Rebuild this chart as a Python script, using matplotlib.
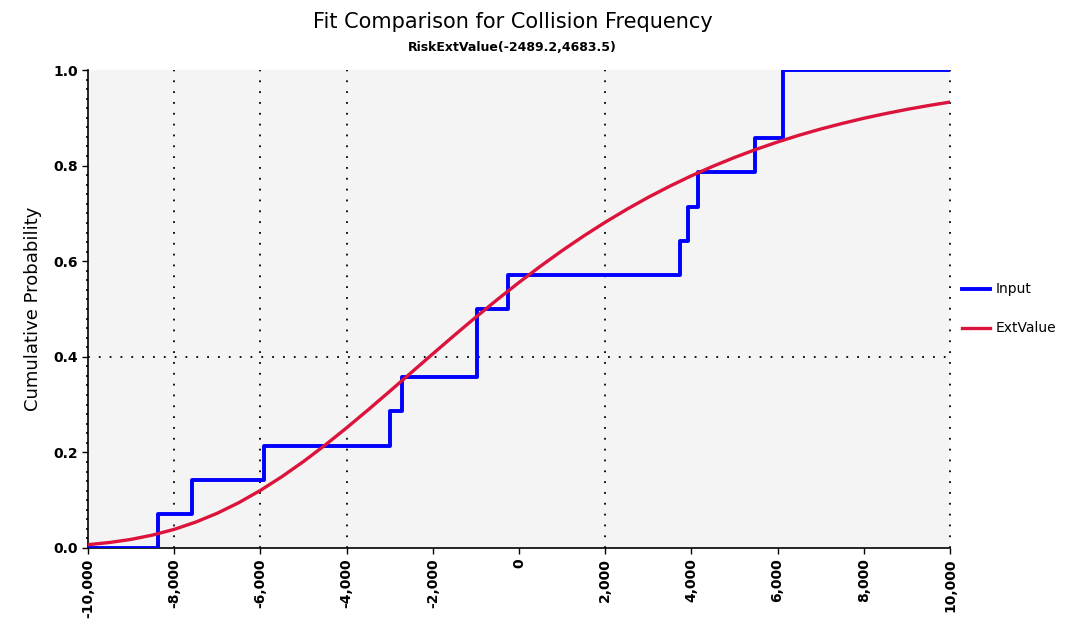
import numpy as np
import matplotlib
matplotlib.use('Agg')
import matplotlib.pyplot as plt
from matplotlib.ticker import FuncFormatter, MultipleLocator

# empirical CDF of the input data (x where each step rises, level after the step)
step_x = [-10000, -8376, -7587, -5917, -2993, -2715, -975, -255, 3735, 3921, 4153, 5476, 6125, 10000]
step_y = [0.0, 0.0714, 0.1429, 0.2143, 0.2857, 0.3571, 0.5, 0.5714, 0.6429, 0.7143, 0.7857, 0.8571, 1.0, 1.0]

# fitted ExtValue CDF
fit_x = [-10000, -9500, -9000, -8500, -8000, -7500, -7000, -6500, -6000, -5500, -5000,
         -4500, -4000, -3500, -3000, -2500, -2000, -1500, -1000, -500, 0,
         500, 1000, 1500, 2000, 2500, 3000, 3500, 4000, 4500, 5000,
         5500, 6000, 6500, 7000, 7500, 8000, 8500, 9000, 9500, 10000]
fit_y = [0.0069, 0.0115, 0.0180, 0.0271, 0.0390, 0.0542, 0.0728, 0.0949, 0.1205, 0.1493, 0.1810,
         0.2152, 0.2514, 0.2891, 0.3278, 0.3670, 0.4062, 0.4450, 0.4831, 0.5200, 0.5556,
         0.5897, 0.6221, 0.6527, 0.6815, 0.7085, 0.7337, 0.7570, 0.7787, 0.7986, 0.8170,
         0.8339, 0.8494, 0.8636, 0.8765, 0.8882, 0.8990, 0.9087, 0.9176, 0.9256, 0.9329]

vgrid = [-8000, -6000, -4000, 2000, 10000]
hgrid = [0.4]

fig = plt.figure(figsize=(10.75, 6.29), dpi=100)
ax = fig.add_axes([0.0819, 0.1288, 0.8018, 0.7599])
ax.set_facecolor('#f4f4f4')

for gx in vgrid:
    ax.axvline(gx, color='black', linestyle=(0, (1, 5)), lw=1.3, clip_on=False, zorder=1)
for gy in hgrid:
    ax.axhline(gy, color='black', linestyle=(0, (1, 5)), lw=1.3, zorder=1)

ax.plot(step_x, step_y, drawstyle='steps-post', color='#0000ff', lw=2.8, label='Input', zorder=3)
ax.plot(fit_x, fit_y, color='#dc143c', lw=2.4, label='ExtValue', zorder=4)

ax.set_xlim(-10000, 10000)
ax.set_ylim(0, 1.0)
ax.xaxis.set_major_locator(MultipleLocator(2000))
ax.yaxis.set_major_locator(MultipleLocator(0.2))
ax.yaxis.set_minor_locator(MultipleLocator(0.02))
ax.xaxis.set_major_formatter(FuncFormatter(lambda v, p: '{:,.0f}'.format(v)))
ax.yaxis.set_major_formatter(FuncFormatter(lambda v, p: '{:.1f}'.format(v)))
plt.setp(ax.get_xticklabels(), rotation=90)
ax.tick_params(axis='both', labelsize=10, direction='out', length=4, width=1)
ax.tick_params(axis='y', which='minor', length=1.5, width=1.2)
for lbl in ax.get_xticklabels() + ax.get_yticklabels():
    lbl.set_fontweight('bold')

ax.spines['top'].set_visible(False)
ax.spines['right'].set_visible(False)
ax.spines['left'].set_linewidth(1.2)
ax.spines['bottom'].set_linewidth(1.2)

ax.set_ylabel('Cumulative Probability', fontsize=13, labelpad=8)
fig.text(0.4767, 0.965, 'Fit Comparison for Collision Frequency', ha='center', va='center', fontsize=15)
fig.text(0.4767, 0.925, 'RiskExtValue(-2489.2,4683.5)', ha='center', va='center', fontsize=9, fontweight='bold')

ax.legend(loc='center left', bbox_to_anchor=(1.0, 0.5), frameon=False, fontsize=10,
          handlelength=2.0, handletextpad=0.4, labelspacing=1.8, borderaxespad=0.5)

fig.savefig('out.png', dpi=100)
